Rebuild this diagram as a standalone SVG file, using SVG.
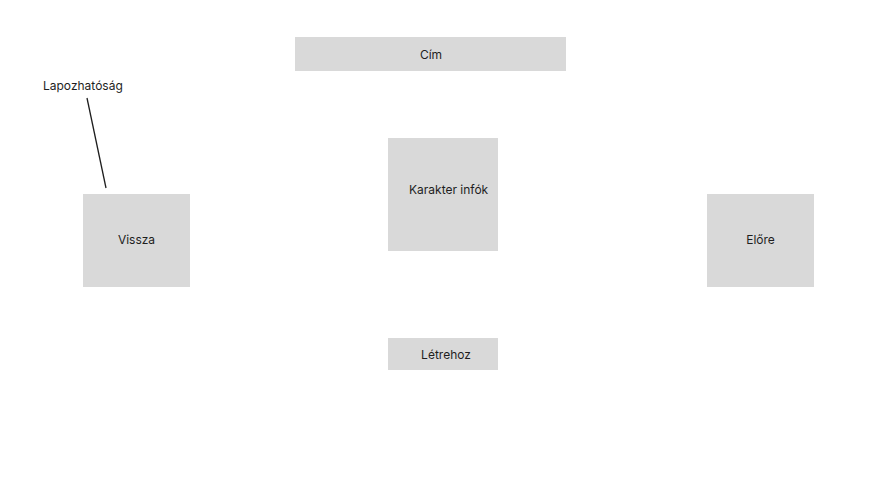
<svg xmlns="http://www.w3.org/2000/svg" width="886" height="503" viewBox="0 0 886 503">
<style>
.box{fill:#d9d9d9}
.t{font-family:Inter,"Liberation Sans",sans-serif;font-size:12px;fill:#1e1e1e}
.c{text-anchor:middle}
</style>
<rect width="886" height="503" fill="#ffffff"/>
<g id="cim"><rect class="box" x="295" y="37" width="271" height="34"/><text class="t c" x="431" y="59">Cím</text></g>
<g id="vissza"><rect class="box" x="83" y="194" width="107" height="93"/><text class="t c" x="136.5" y="244">Vissza</text></g>
<g id="karakter"><rect class="box" x="388" y="138" width="110" height="113"/><text class="t" x="409" y="194">Karakter infók</text></g>
<g id="elore"><rect class="box" x="707" y="194" width="107" height="93"/><text class="t c" x="760.5" y="244">Előre</text></g>
<g id="letrehoz"><rect class="box" x="388" y="338" width="110" height="32"/><text class="t c" x="446" y="359">Létrehoz</text></g>
<g id="lapozhatosag"><text class="t" x="43" y="90">Lapozhatóság</text></g>
<g id="connectors"><line x1="87" y1="98" x2="106" y2="188" stroke="#1e1e1e" stroke-width="1.3"/></g>
</svg>
